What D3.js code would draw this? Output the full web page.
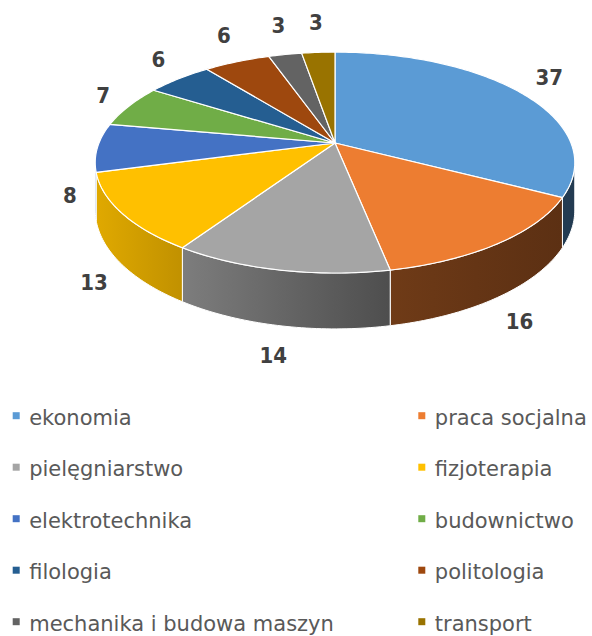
<!DOCTYPE html>
<html>
<head>
<meta charset="utf-8">
<script src="https://cdn.jsdelivr.net/npm/d3@7"></script>
<style>
  body { margin: 0; background: #fff; }
  .lbl { font-family: "DejaVu Sans Condensed", "DejaVu Sans", sans-serif; font-stretch: condensed; }
  .leg { font-family: "DejaVu Sans", sans-serif; }
</style>
</head>
<body>
<div id="chart"></div>
<script>
var categories = ["ekonomia", "praca socjalna", "pielęgniarstwo", "fizjoterapia",
  "elektrotechnika", "budownictwo", "filologia", "politologia",
  "mechanika i budowa maszyn", "transport"];
var values = [37, 16, 14, 13, 8, 7, 6, 6, 3, 3];
var palette = ["#5b9bd5", "#ed7d31", "#a5a5a5", "#ffc000", "#4472c4",
  "#70ad47", "#255e91", "#9e480e", "#636363", "#997300"];

function init() {
  var w = 592, h = 636;
  var cx = 335, cy = 143;      // projected centre of the top face
  var R = 236, Ry = 107;       // radii
  var k = 0.177;               // perspective strength
  var depth = 46;              // thickness of the pie

  var color = d3.scaleOrdinal().domain(categories).range(palette);
  // side lighting: brighter on the left, darker to the right
  var light = d3.scaleLinear().domain([95, 180, 390, 575]).range([0.88, 0.76, 0.47, 0.38]).clamp(true);

  function proj(a, r, drop) {
    var z = r * Math.cos(a), x = r * Math.sin(a);
    var s = 1 / (1 + k * z);
    return [cx + R * x * s, cy - Ry * z * s + (drop || 0) * s];
  }
  function arcPts(a0, a1, drop) {
    var n = Math.max(2, Math.ceil(Math.abs(a1 - a0) / (Math.PI / 180)));
    return d3.range(n + 1).map(function(i) { return proj(a0 + (a1 - a0) * i / n, 1, drop); });
  }
  function shade(c, f) {
    var col = d3.rgb(c);
    return d3.rgb(col.r * f, col.g * f, col.b * f).formatHex();
  }

  var arcs = d3.pie().sort(null).value(function(d) { return d; })(values);
  var line = d3.line();

  var svg = d3.select("#chart").append("svg")
    .attr("width", w).attr("height", h);
  var defs = svg.append("defs");

  // outer walls (front half only)
  var lo = Math.acos(-k), hi = 2 * Math.PI - Math.acos(-k);
  arcs.forEach(function(d, i) {
    var a0 = Math.max(d.startAngle, lo), a1 = Math.min(d.endAngle, hi);
    if (a1 <= a0) return;
    var top = arcPts(a0, a1, 0);
    var bot = arcPts(a1, a0, depth);
    var pts = top.concat(bot);
    var xs = pts.map(function(p) { return p[0]; });
    var x0 = d3.min(xs), x1 = d3.max(xs);
    var base = color(categories[i]);
    var g = defs.append("linearGradient").attr("id", "side" + i)
      .attr("gradientUnits", "userSpaceOnUse")
      .attr("x1", x0).attr("x2", x1).attr("y1", 0).attr("y2", 0);
    [0, 0.5, 1].forEach(function(t) {
      g.append("stop").attr("offset", t)
        .attr("stop-color", shade(base, light(x0 + (x1 - x0) * t)));
    });
    svg.append("path")
      .attr("d", line(pts) + "Z")
      .attr("fill", "url(#side" + i + ")")
      .attr("stroke", "#fff")
      .attr("stroke-width", 1)
      .attr("stroke-linejoin", "round");
  });

  // top faces
  arcs.forEach(function(d, i) {
    var pts = [[cx, cy]].concat(arcPts(d.startAngle, d.endAngle, 0));
    svg.append("path")
      .attr("d", line(pts) + "Z")
      .attr("fill", color(categories[i]))
      .attr("stroke", "#fff")
      .attr("stroke-width", 1.2)
      .attr("stroke-linejoin", "round");
  });

  // value labels
  var gap = 21;
  arcs.forEach(function(d) {
    var m = (d.startAngle + d.endAngle) / 2;
    var front = Math.cos(m) < 0;
    var p = proj(m, 1, front ? depth : 0);
    var ux = Math.sin(m), uy = -Math.cos(m);
    var txt = String(d.data);
    var bw = txt.length * 13, bh = 18;
    svg.append("text")
      .attr("class", "lbl")
      .attr("x", p[0] + ux * gap + ux * bw / 2)
      .attr("y", p[1] + uy * gap + uy * bh / 2)
      .attr("dy", "0.36em")
      .attr("text-anchor", "middle")
      .attr("font-size", "22px")
      .attr("font-weight", "bold")
      .attr("fill", "#404040")
      .text(txt);
  });

  // legend
  var colX = d3.scalePoint().domain([0, 1]).range([12.7, 418.3]);
  var rowY = d3.scalePoint().domain(d3.range(5)).range([424.5, 630.5]);
  categories.forEach(function(c, i) {
    var x = colX(i % 2), y = rowY(Math.floor(i / 2));
    svg.append("rect")
      .attr("x", x).attr("y", y - 12.3)
      .attr("width", 7).attr("height", 7)
      .attr("fill", color(c));
    svg.append("text")
      .attr("class", "leg")
      .attr("x", x + 16.5)
      .attr("y", y)
      .attr("font-size", "21px")
      .attr("fill", "#595959")
      .text(c);
  });
}

window.onload = init;
</script>
</body>
</html>
